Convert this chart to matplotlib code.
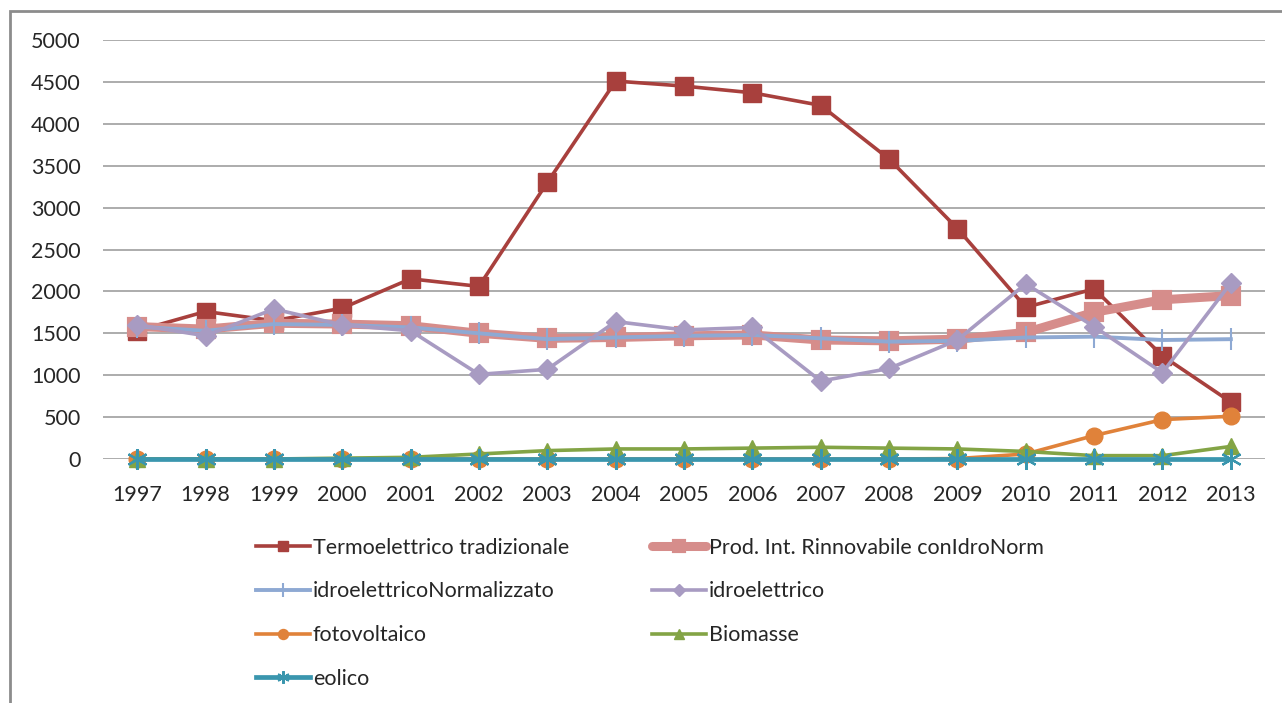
import numpy as np
import matplotlib.pyplot as plt
from matplotlib.patches import Rectangle

plt.rcParams['font.family'] = ['Lato', 'DejaVu Sans']

years = ['1997', '1998', '1999', '2000', '2001', '2002', '2003', '2004', '2005',
         '2006', '2007', '2008', '2009', '2010', '2011', '2012', '2013']

termo = [1530, 1760, 1650, 1800, 2150, 2060, 3300, 4510, 4450, 4370, 4220,
         3580, 2750, 1810, 2030, 1230, 680]
prod_rinn = [1580, 1550, 1620, 1610, 1590, 1500, 1440, 1450, 1470, 1480, 1420,
             1410, 1430, 1510, 1750, 1900, 1950]
idro_norm = [1580, 1530, 1610, 1600, 1570, 1500, 1430, 1450, 1470, 1480, 1440,
             1400, 1410, 1450, 1460, 1420, 1430]
idro = [1600, 1470, 1790, 1600, 1530, 1010, 1070, 1640, 1540, 1570, 930,
        1080, 1420, 2090, 1580, 1030, 2100]
foto = [0, 0, 0, 0, 0, 0, 0, 0, 0, 0, 0, 0, 5, 60, 280, 470, 510]
biomasse = [0, 0, 0, 10, 20, 60, 100, 120, 120, 130, 140, 130, 120, 90,
            40, 40, 150]
eolico = [0, 0, 0, 0, 0, 0, 0, 0, 0, 0, 0, 0, 0, 0, 0, 0, 0]

x = np.arange(len(years))

fig = plt.figure(figsize=(12.82, 7.03), dpi=100)
ax = fig.add_axes([103 / 1282, 1 - 459 / 703, (1265 - 103) / 1282, (459 - 40) / 703])

h_termo, = ax.plot(x, termo, color='#A8403D', lw=2.6, marker='s', ms=13,
                   label='Termoelettrico tradizionale', clip_on=False)
h_prod, = ax.plot(x, prod_rinn, color='#D68D8B', lw=6.5, marker='s', ms=12,
                  mew=3, mec='#D68D8B', solid_joinstyle='round', solid_capstyle='round',
                  label='Prod. Int. Rinnovabile conIdroNorm', clip_on=False)
h_inorm, = ax.plot(x, idro_norm, color='#8EA9D3', lw=2.8, marker='|', ms=16, mew=1.5,
                   label='idroelettricoNormalizzato', clip_on=False)
h_idro, = ax.plot(x, idro, color='#A89BC2', lw=2.6, marker='D', ms=10,
                  label='idroelettrico', clip_on=False)
h_foto, = ax.plot(x, foto, color='#E0823A', lw=2.6, marker='o', ms=12,
                  label='fotovoltaico', clip_on=False)
h_bio, = ax.plot(x, biomasse, color='#83A445', lw=2.6, marker='^', ms=11,
                 label='Biomasse', clip_on=False)
h_eol, = ax.plot(x, eolico, color='#3A96AE', lw=3.4, marker=(6, 2, 0), ms=15, mew=1.6,
                 label='eolico', clip_on=False)

ax.set_xlim(-0.5, len(years) - 0.5)
ax.set_ylim(0, 5000)
ax.set_yticks(range(0, 5001, 500))
ax.set_xticks(x)
ax.set_xticklabels(years)
ax.yaxis.grid(True, color='#A6A6A6', lw=1.3)
ax.set_axisbelow(True)
for s in ax.spines.values():
    s.set_visible(False)
ax.tick_params(length=0, labelsize=15.5, colors='#262626')
ax.tick_params(axis='y', pad=16)
ax.tick_params(axis='x', pad=19)

# legend filled column by column: left column first, then right
handles = [h_termo, h_inorm, h_foto, h_eol, h_prod, h_idro, h_bio]
fig.legend(handles=handles, labels=[h.get_label() for h in handles],
           ncol=2, loc='upper left', bbox_to_anchor=(245 / 1282, 1 - 527 / 703),
           frameon=False, fontsize=15.5, handlelength=2.5, handletextpad=0.15,
           labelspacing=1.1, columnspacing=3.85, markerscale=0.6, borderpad=0,
           labelcolor='#262626')

fig.patches.append(Rectangle((10 / 1282, -0.1), 1.2, 1 - 11 / 703 + 0.1,
                             transform=fig.transFigure, fill=False,
                             edgecolor='#8C8C8C', lw=2))

fig.savefig('out.png', dpi=100)
